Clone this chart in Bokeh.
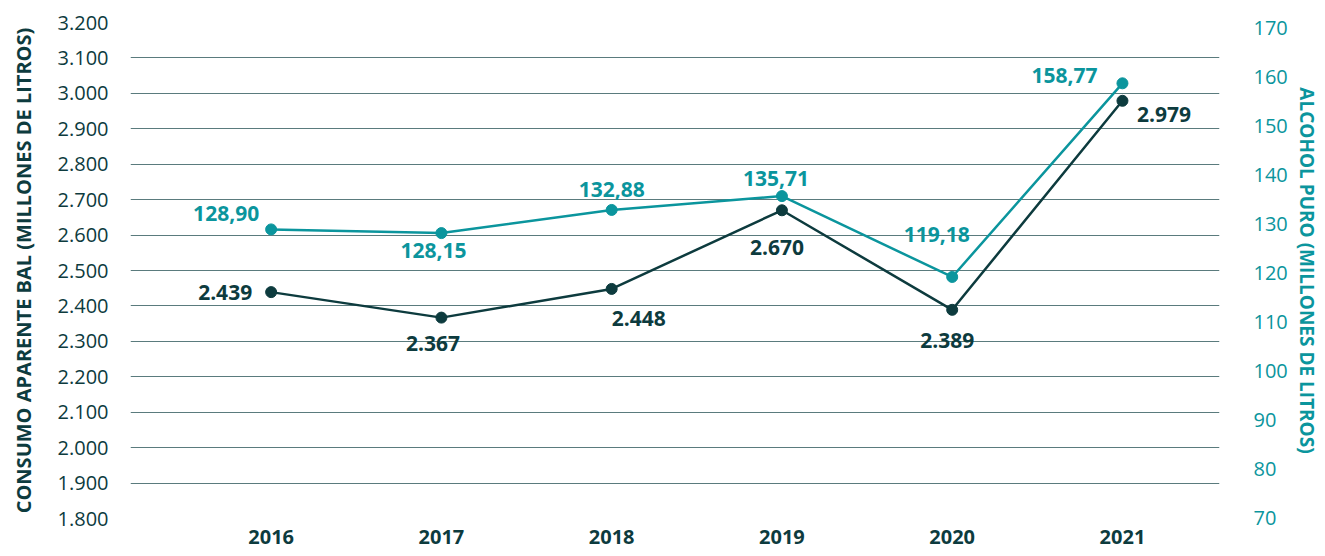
from bokeh.plotting import figure
from bokeh.models import Range1d, LinearAxis, FixedTicker, ColumnDataSource
from bokeh.embed import file_html
from bokeh.resources import INLINE
from bokeh.core.properties import value

# ---- data ----
years = [2016, 2017, 2018, 2019, 2020, 2021]
year_labels = ["2016", "2017", "2018", "2019", "2020", "2021"]
consumo_bal = [2439, 2367, 2448, 2670, 2389, 2979]          # millones de litros
alcohol_puro = [128.90, 128.15, 132.88, 135.71, 119.18, 158.77]  # millones de litros
left_ticks = [1800, 1900, 2000, 2100, 2200, 2300, 2400, 2500, 2600, 2700, 2800, 2900, 3000, 3100, 3200]
left_tick_labels = ["1.800", "1.900", "2.000", "2.100", "2.200", "2.300", "2.400", "2.500",
                    "2.600", "2.700", "2.800", "2.900", "3.000", "3.100", "3.200"]
right_ticks = [70, 80, 90, 100, 110, 120, 130, 140, 150, 160, 170]

# ---- label placement (screen px offsets) ----
bal_dx = [-46, -8.5, 27, -5, -5, 41.5]
bal_dy = [0, 26, 30, 37, 31, 14]
alc_dx = [-45, -8, 0, -6, -15.5, -58]
alc_dy = [-15.5, 17, -20, -18, -42, -8]

DARK = "#0d3b3e"
TEAL = "#0b959d"
GRID = "#5a7b7d"
FONT = "Open Sans"

p = figure(width=1325, height=556, output_backend="svg", toolbar_location=None,
           x_range=Range1d(2015.174, 2021.57), y_range=Range1d(1800, 3200),
           min_border_left=130, min_border_right=106, min_border_top=22, min_border_bottom=38)
p.outline_line_color = None
p.xgrid.visible = False
p.ygrid.grid_line_color = GRID
p.ygrid.grid_line_width = 1.2

# x axis
xa = p.xaxis[0]
xa.ticker = FixedTicker(ticks=years)
xa.major_label_overrides = {y: l for y, l in zip(years, year_labels)}
xa.axis_line_color = None
xa.major_tick_line_color = None
xa.minor_tick_line_color = None
xa.major_tick_out = 0
xa.major_tick_in = 0
xa.major_label_text_font = FONT
xa.major_label_text_font_style = "bold"
xa.major_label_text_font_size = "20px"
xa.major_label_text_color = DARK
xa.major_label_standoff = 11

# left axis
ya = p.yaxis[0]
ya.ticker = FixedTicker(ticks=left_ticks)
ya.major_label_overrides = {t: l for t, l in zip(left_ticks, left_tick_labels)}
ya.axis_line_color = None
ya.major_tick_line_color = None
ya.minor_tick_line_color = None
ya.major_tick_out = 0
ya.major_tick_in = 0
ya.major_label_standoff = 22
ya.major_label_text_font = FONT
ya.major_label_text_font_size = "20px"
ya.major_label_text_color = DARK
ya.axis_label = "CONSUMO APARENTE BAL (MILLONES DE LITROS)"
ya.axis_label_text_font = FONT
ya.axis_label_text_font_style = "bold"
ya.axis_label_text_font_size = "20px"
ya.axis_label_text_color = DARK
ya.axis_label_standoff = 18

# right axis
p.extra_y_ranges = {"alc": Range1d(69.8, 171.2)}
ra = LinearAxis(y_range_name="alc", ticker=FixedTicker(ticks=right_ticks))
ra.axis_line_color = None
ra.major_tick_line_color = None
ra.minor_tick_line_color = None
ra.major_tick_out = 0
ra.major_tick_in = 0
ra.major_label_standoff = 34
ra.major_label_text_font = FONT
ra.major_label_text_font_size = "20px"
ra.major_label_text_color = TEAL
ra.axis_label = "ALCOHOL PURO (MILLONES DE LITROS)"
ra.axis_label_text_font = FONT
ra.axis_label_text_font_style = "bold"
ra.axis_label_text_font_size = "19px"
ra.axis_label_text_color = TEAL
ra.axis_label_standoff = 3
p.add_layout(ra, "right")

# series
bal_src = ColumnDataSource(dict(x=years, y=consumo_bal,
                                t=[f"{v:,}".replace(",", ".") for v in consumo_bal],
                                dx=bal_dx, dy=bal_dy))
alc_src = ColumnDataSource(dict(x=years, y=alcohol_puro,
                                t=[f"{v:.2f}".replace(".", ",") for v in alcohol_puro],
                                dx=alc_dx, dy=alc_dy))

p.line("x", "y", source=bal_src, color=DARK, line_width=2.5)
p.scatter("x", "y", source=bal_src, size=11, color=DARK)
p.line("x", "y", source=alc_src, color=TEAL, line_width=2.5, y_range_name="alc")
p.scatter("x", "y", source=alc_src, size=11, color=TEAL, y_range_name="alc")

p.text("x", "y", text="t", source=bal_src, x_offset="dx", y_offset="dy",
       text_align="center", text_baseline="middle", text_font=value(FONT),
       text_font_style="bold", text_font_size="21px", text_color=DARK)
p.text("x", "y", text="t", source=alc_src, x_offset="dx", y_offset="dy",
       text_align="center", text_baseline="middle", text_font=value(FONT),
       text_font_style="bold", text_font_size="21px", text_color=TEAL, y_range_name="alc")

open("out.html", "w").write(file_html(p, INLINE))
